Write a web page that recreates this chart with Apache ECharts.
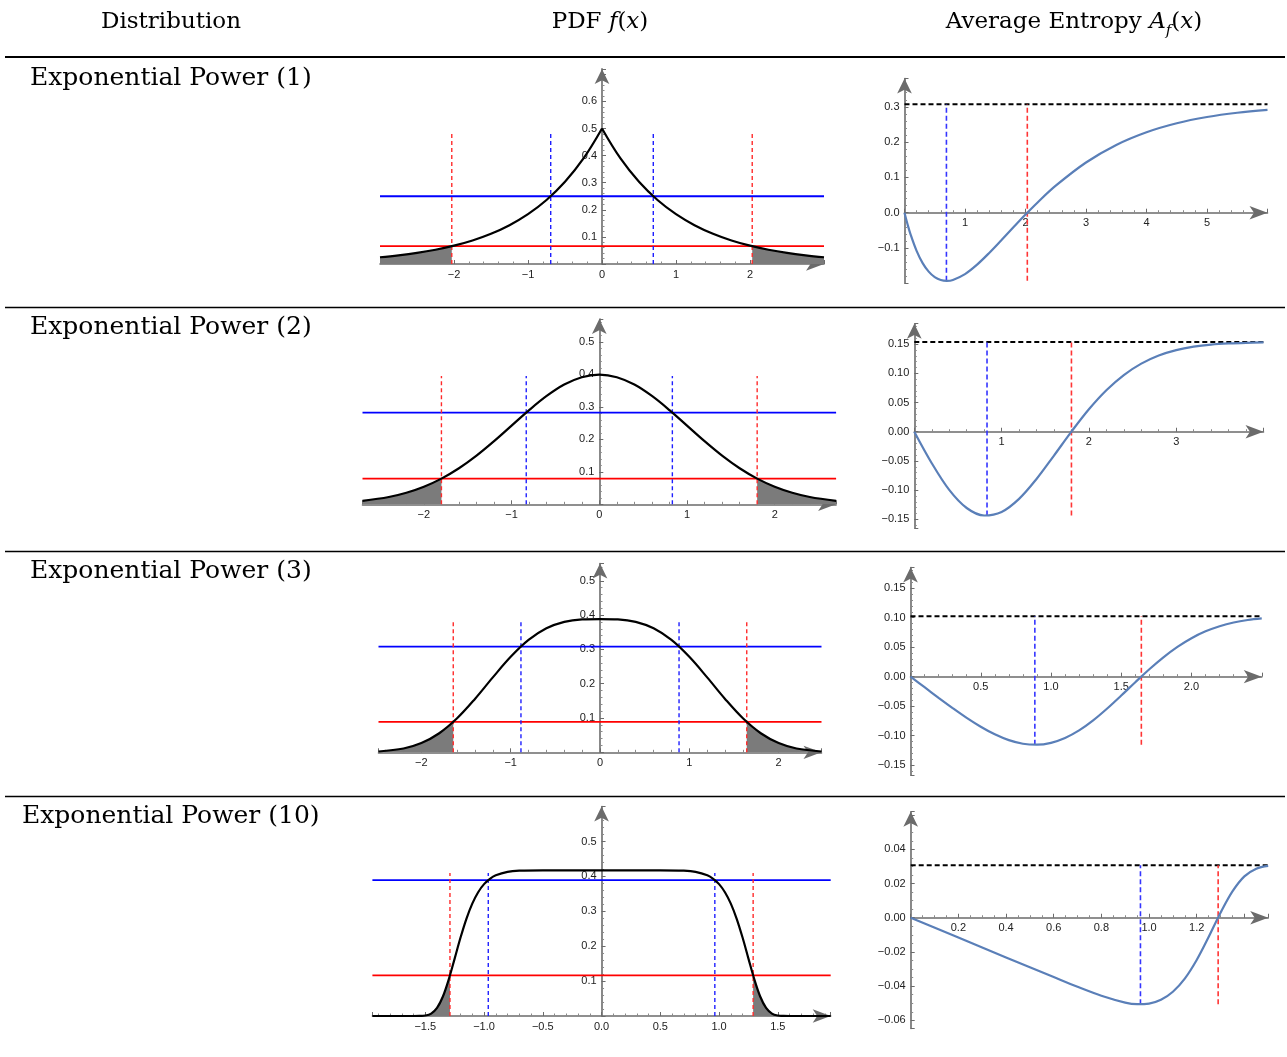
<!DOCTYPE html>
<html>
<head>
<meta charset="utf-8">
<title>Exponential Power: PDF and Average Entropy</title>
<script src="https://cdn.jsdelivr.net/npm/echarts@6/dist/echarts.min.js"></script>
<style>
  html, body { margin: 0; padding: 0; background: #fff; }
  #main { width: 1287px; height: 1057px; }
</style>
</head>
<body>
<div id="main"></div>
<script>
// ---------------- data ----------------
const rowNames = ['Exponential Power (1)', 'Exponential Power (2)', 'Exponential Power (3)', 'Exponential Power (10)'];

// PDF f(x), middle column
const pdf1X = [-3, -2.75, -2.5, -2.25, -2, -1.75, -1.5, -1.25, -1, -0.75, -0.5, -0.25, 0, 0.25, 0.5, 0.75, 1, 1.25, 1.5, 1.75, 2, 2.25, 2.5, 2.75, 3];
const pdf1Y = [0.0249, 0.032, 0.041, 0.0527, 0.0677, 0.0869, 0.1116, 0.1433, 0.1839, 0.2362, 0.3033, 0.3894, 0.5, 0.3894, 0.3033, 0.2362, 0.1839, 0.1433, 0.1116, 0.0869, 0.0677, 0.0527, 0.041, 0.032, 0.0249];

const pdf2X = [-2.7, -2.4, -2.2, -2, -1.8, -1.6, -1.4, -1.2, -1, -0.8, -0.6, -0.4, -0.2, 0, 0.2, 0.4, 0.6, 0.8, 1, 1.2, 1.4, 1.6, 1.8, 2, 2.2, 2.4, 2.7];
const pdf2Y = [0.0104, 0.0224, 0.0355, 0.054, 0.079, 0.1109, 0.1497, 0.1942, 0.242, 0.2897, 0.3332, 0.3683, 0.391, 0.3989, 0.391, 0.3683, 0.3332, 0.2897, 0.242, 0.1942, 0.1497, 0.1109, 0.079, 0.054, 0.0355, 0.0224, 0.0104];

const pdf3X = [-2.48, -2.2, -2, -1.8, -1.6, -1.4, -1.2, -1, -0.8, -0.6, -0.4, -0.2, 0, 0.2, 0.4, 0.6, 0.8, 1, 1.2, 1.4, 1.6, 1.8, 2, 2.2, 2.48];
const pdf3Y = [0.0024, 0.0112, 0.027, 0.0556, 0.0991, 0.1556, 0.2183, 0.2782, 0.3274, 0.3613, 0.3801, 0.3873, 0.3883, 0.3873, 0.3801, 0.3613, 0.3274, 0.2782, 0.2183, 0.1556, 0.0991, 0.0556, 0.027, 0.0112, 0.0024];

const pdf4X = [-1.95, -1.6, -1.55, -1.5, -1.45, -1.4, -1.35, -1.3, -1.25, -1.2, -1.15, -1.1, -1.05, -1, -0.95, -0.9, -0.8, -0.7, -0.5, 0, 0.5, 0.7, 0.8, 0.9, 0.95, 1, 1.05, 1.1, 1.15, 1.2, 1.25, 1.3, 1.35, 1.4, 1.45, 1.5, 1.55, 1.6, 1.95];
const pdf4Y = [0, 0, 0.0001, 0.0013, 0.0069, 0.0232, 0.0559, 0.1052, 0.1645, 0.2248, 0.2786, 0.3221, 0.3547, 0.3778, 0.3932, 0.4032, 0.413, 0.4163, 0.4175, 0.4175, 0.4175, 0.4163, 0.413, 0.4032, 0.3932, 0.3778, 0.3547, 0.3221, 0.2786, 0.2248, 0.1645, 0.1052, 0.0559, 0.0232, 0.0069, 0.0013, 0.0001, 0, 0];

// average entropy A_f(x), right column
const ae1X = [0, 0.05, 0.1, 0.2, 0.3, 0.4, 0.5, 0.6, 0.7, 0.8, 1, 1.2, 1.4, 1.6, 1.8, 2, 2.2, 2.5, 3, 3.5, 4, 4.5, 5, 5.5, 6];
const ae1Y = [0, -0.0326, -0.0613, -0.1081, -0.1427, -0.1669, -0.1825, -0.1908, -0.1931, -0.1905, -0.1739, -0.147, -0.114, -0.0781, -0.0414, -0.0053, 0.0291, 0.0765, 0.1423, 0.192, 0.228, 0.2535, 0.2711, 0.2832, 0.2913];

const ae2X = [0, 0.2, 0.4, 0.6, 0.8, 1, 1.2, 1.4, 1.6, 1.8, 2, 2.2, 2.4, 2.6, 2.8, 3, 3.2, 3.4, 3.6, 3.8, 4];
const ae2Y = [0, -0.0539, -0.0996, -0.1306, -0.1434, -0.1373, -0.1149, -0.0809, -0.0408, 0.0002, 0.0385, 0.0711, 0.0971, 0.1166, 0.1305, 0.1397, 0.1456, 0.1492, 0.1512, 0.1523, 0.1529];

const ae3X = [0, 0.1, 0.2, 0.3, 0.4, 0.5, 0.6, 0.7, 0.8, 0.9, 1, 1.1, 1.2, 1.3, 1.4, 1.5, 1.6, 1.7, 1.8, 1.9, 2, 2.1, 2.2, 2.3, 2.4, 2.5];
const ae3Y = [0, -0.0179, -0.0358, -0.0532, -0.0698, -0.0848, -0.0977, -0.1076, -0.1137, -0.1153, -0.1121, -0.1039, -0.0911, -0.0741, -0.054, -0.032, -0.0094, 0.0126, 0.0328, 0.0505, 0.0652, 0.0768, 0.0855, 0.0918, 0.096, 0.0987];

const ae4X = [0, 0.2, 0.4, 0.6, 0.7, 0.8, 0.9, 0.95, 1, 1.05, 1.1, 1.15, 1.2, 1.25, 1.3, 1.35, 1.4, 1.45, 1.5];
const ae4Y = [0, -0.0116, -0.0232, -0.0347, -0.0404, -0.0456, -0.0496, -0.0505, -0.0502, -0.048, -0.0433, -0.0356, -0.0247, -0.0113, 0.0029, 0.0154, 0.0242, 0.0287, 0.0303];

// cut points and levels
const redCuts = [2.03, 1.8, 1.643, 1.29];
const redLevels = [0.0656, 0.079, 0.0885, 0.1165];
const blueCuts = [0.693, 0.833, 0.885, 0.964];
const blueLevels = [0.25, 0.282, 0.308, 0.3895];
const pdfDashTops = [0.49, 0.395, 0.384, 0.41];
const aeLimits = [0.307, 0.1535, 0.1023, 0.0307];
const aeMins = [-0.193, -0.1436, -0.1153, -0.0506];

// tick labels
const pdfXTicks = [[-2, -1, 0, 1, 2], [-2, -1, 0, 1, 2], [-2, -1, 0, 1, 2], [-1.5, -1, -0.5, 0, 0.5, 1, 1.5]];
const pdfYTicks = [[0.1, 0.2, 0.3, 0.4, 0.5, 0.6], [0.1, 0.2, 0.3, 0.4, 0.5], [0.1, 0.2, 0.3, 0.4, 0.5], [0.1, 0.2, 0.3, 0.4, 0.5]];
const aeXTicks = [[1, 2, 3, 4, 5], [1, 2, 3], [0.5, 1, 1.5, 2], [0.2, 0.4, 0.6, 0.8, 1, 1.2]];
const aeYTicks = [[-0.1, 0, 0.1, 0.2, 0.3], [-0.15, -0.1, -0.05, 0, 0.05, 0.1, 0.15], [-0.15, -0.1, -0.05, 0, 0.05, 0.1, 0.15], [-0.06, -0.04, -0.02, 0, 0.02, 0.04]];

// ---------------- layout ----------------
const pdfX = [pdf1X, pdf2X, pdf3X, pdf4X];
const pdfY = [pdf1Y, pdf2Y, pdf3Y, pdf4Y];
const aeX = [ae1X, ae2X, ae3X, ae4X];
const aeY = [ae1Y, ae2Y, ae3Y, ae4Y];

const pdfBox = [
  {left: 380, top: 68.9, width: 444, height: 195.1, xMin: -3, xMax: 3, yMax: 0.72, xStep: 1, yStep: 0.1, xDec: 0, yDec: 1},
  {left: 362.5, top: 319, width: 473.6, height: 185.3, xMin: -2.7, xMax: 2.7, yMax: 0.57, xStep: 1, yStep: 0.1, xDec: 0, yDec: 1},
  {left: 378.5, top: 563.6, width: 443, height: 188.7, xMin: -2.48, xMax: 2.48, yMax: 0.55, xStep: 1, yStep: 0.1, xDec: 0, yDec: 1},
  {left: 372.4, top: 806.6, width: 458.3, height: 209.4, xMin: -1.95, xMax: 1.95, yMax: 0.6, xStep: 0.5, yStep: 0.1, xDec: 1, yDec: 1}
];
const aeBox = [
  {left: 904.5, top: 78.6, width: 363, height: 204.7, xMax: 6, yMin: -0.2, yMax: 0.38, xStep: 1, yStep: 0.1, xDec: 0, yDec: 1, xMinor: 5, yMinor: 5},
  {left: 914.3, top: 323.7, width: 349.2, height: 204.4, xMax: 4, yMin: -0.165, yMax: 0.185, xStep: 1, yStep: 0.05, xDec: 0, yDec: 2, xMinor: 5, yMinor: 5},
  {left: 910.5, top: 567.5, width: 351.25, height: 207.7, xMax: 2.5, yMin: -0.167, yMax: 0.185, xStep: 0.5, yStep: 0.05, xDec: 1, yDec: 2, xMinor: 5, yMinor: 5},
  {left: 910.7, top: 811.7, width: 357.5, height: 216.7, xMax: 1.5, yMin: -0.0647, yMax: 0.062, xStep: 0.2, yStep: 0.02, xDec: 1, yDec: 2, xMinor: 4, yMinor: 4}
];
const rowLabelPos = [[30, 78], [30, 327], [30, 571], [22, 816]];
const ruleYs = [57, 307.5, 551.5, 796.5];

const AXIS = '#6b6b6b';
const LABEL_FONT = 'Liberation Sans, Arial, sans-serif';
const SERIF = 'DejaVu Serif, Liberation Serif, serif';

function pts(xs, ys) { return xs.map((x, i) => [x, ys[i]]); }

function fmt(ticks, dec) {
  return function (v) {
    if (!ticks.some(t => Math.abs(t - v) < 1e-6)) return '';
    if (Math.abs(v) < 1e-9) v = 0;
    return v.toFixed(dec).replace('-', '\u2212');
  };
}

// value axis; `shift` moves the whole axis (line, ticks, labels) inwards to the value 0 of the other axis
function axis(grid, dim, min, max, step, ticks, dec, minor, shift) {
  return {
    type: 'value', gridIndex: grid, min: min, max: max,
    minInterval: step, maxInterval: step, splitNumber: 8,
    offset: -shift,
    splitLine: {show: false},
    axisLine: {
      show: true, onZero: false,
      symbol: ['none', 'arrow'],
      symbolSize: dim === 'x' ? [10, 18] : [11, 15],
      lineStyle: {color: AXIS, width: 1.6}
    },
    axisTick: {show: true, inside: true, length: 4, lineStyle: {color: AXIS, width: 1}},
    minorTick: {show: true, splitNumber: minor, length: 2.5, lineStyle: {color: '#8a8a8a', width: 1}},
    axisLabel: {
      formatter: fmt(ticks, dec), fontSize: 11, color: '#222', fontFamily: LABEL_FONT,
      margin: 5, showMinLabel: true, showMaxLabel: true, hideOverlap: false
    }
  };
}

function seg(gi, data, color, width, dash, z) {
  return {
    type: 'line', xAxisIndex: gi, yAxisIndex: gi, data: data, symbol: 'none', silent: true,
    lineStyle: {color: color, width: width, type: dash || 'solid'}, z: z || 2
  };
}

const grids = [], xAxes = [], yAxes = [], series = [];

for (let r = 0; r < 4; r++) {
  // ---- PDF panel ----
  const g = 2 * r, b = pdfBox[r];
  grids.push({left: b.left, top: b.top, width: b.width, height: b.height});
  xAxes.push(axis(g, 'x', b.xMin, b.xMax, b.xStep, pdfXTicks[r], b.xDec, 5, 0));
  const yShift = b.width * (0 - b.xMin) / (b.xMax - b.xMin);
  yAxes.push(axis(g, 'y', 0, b.yMax, b.yStep, pdfYTicks[r], b.yDec, 5, yShift));

  const xs = pdfX[r], ys = pdfY[r];
  const rc = redCuts[r], rl = redLevels[r];
  const leftTail = [], rightTail = [[rc, rl]];
  xs.forEach((x, i) => {
    if (x < -rc) leftTail.push([x, ys[i]]);
    if (x > rc) rightTail.push([x, ys[i]]);
  });
  leftTail.push([-rc, rl]);
  [leftTail, rightTail].forEach(t => series.push({
    type: 'line', xAxisIndex: g, yAxisIndex: g, data: t, symbol: 'none', smooth: 0.4, silent: true,
    lineStyle: {width: 0}, areaStyle: {color: '#7b7b7b', opacity: 1}, z: 1
  }));

  series.push(seg(g, [[b.xMin, blueLevels[r]], [b.xMax, blueLevels[r]]], '#0000ff', 1.8));
  series.push(seg(g, [[b.xMin, rl], [b.xMax, rl]], '#ff0000', 1.8));
  [-blueCuts[r], blueCuts[r]].forEach(x => series.push(seg(g, [[x, 0], [x, pdfDashTops[r]]], '#1f1fff', 1.4, [4, 3])));
  [-rc, rc].forEach(x => series.push(seg(g, [[x, 0], [x, pdfDashTops[r]]], '#ff2a2a', 1.4, [4, 3])));

  const all = pts(xs, ys);
  if (r === 0) {
    // cusp at the peak: draw both halves separately
    series.push(Object.assign(seg(g, all.filter(p => p[0] <= 0), '#000', 2.2, null, 3), {smooth: 0.4}));
    series.push(Object.assign(seg(g, all.filter(p => p[0] >= 0), '#000', 2.2, null, 3), {smooth: 0.4}));
  } else {
    series.push(Object.assign(seg(g, all, '#000', 2.2, null, 3), {smooth: 0.35}));
  }

  // ---- average entropy panel ----
  const h = 2 * r + 1, a = aeBox[r];
  grids.push({left: a.left, top: a.top, width: a.width, height: a.height});
  const xShift = a.height * (0 - a.yMin) / (a.yMax - a.yMin);
  xAxes.push(axis(h, 'x', 0, a.xMax, a.xStep, aeXTicks[r], a.xDec, a.xMinor, xShift));
  yAxes.push(axis(h, 'y', a.yMin, a.yMax, a.yStep, aeYTicks[r], a.yDec, a.yMinor, 0));

  series.push(seg(h, [[0, aeLimits[r]], [a.xMax, aeLimits[r]]], '#000', 2, [5, 3]));
  series.push(seg(h, [[blueCuts[r], aeMins[r]], [blueCuts[r], aeLimits[r]]], '#3535ff', 1.6, [5, 3]));
  series.push(seg(h, [[rc, aeMins[r]], [rc, aeLimits[r]]], '#ff3535', 1.6, [5, 3]));
  series.push(Object.assign(seg(h, pts(aeX[r], aeY[r]), '#5a7fb8', 2.2, null, 3), {smooth: 0.35}));
}

// ---------------- table text and rules ----------------
const graphics = [];
ruleYs.forEach((y, i) => graphics.push({
  type: 'line', shape: {x1: 5, y1: y, x2: 1285, y2: y},
  style: {stroke: '#000', lineWidth: i === 0 ? 2.2 : 1.6}, silent: true
}));

const headRich = {
  n: {fontFamily: SERIF, fontSize: 23, color: '#000', lineHeight: 34},
  m: {fontFamily: SERIF, fontSize: 23, color: '#ff0000', fontStyle: 'italic', lineHeight: 34},
  p: {fontFamily: SERIF, fontSize: 23, color: '#ff0000', lineHeight: 34},
  s: {fontFamily: SERIF, fontSize: 15, color: '#ff0000', fontStyle: 'italic', lineHeight: 15, verticalAlign: 'bottom'}
};
[
  [171, '{n|Distribution}'],
  [600, '{n|PDF }{m|f}{p|(}{m|x}{p|)}'],
  [1074, '{n|Average Entropy }{m|A}{s|f}{p|(}{m|x}{p|)}']
].forEach(([x, t]) => graphics.push({
  type: 'text', x: x, y: 22, silent: true,
  style: {text: t, rich: headRich, align: 'center', verticalAlign: 'middle', textAlign: 'center', textVerticalAlign: 'middle'}
}));

rowNames.forEach((name, r) => graphics.push({
  type: 'text', x: rowLabelPos[r][0], y: rowLabelPos[r][1], silent: true,
  style: {text: name, font: '25px ' + SERIF, fill: '#000', align: 'left', verticalAlign: 'middle', textAlign: 'left', textVerticalAlign: 'middle'}
}));

const chart = echarts.init(document.getElementById('main'), null, {renderer: 'canvas'});
chart.setOption({
  animation: false,
  backgroundColor: '#fff',
  grid: grids,
  xAxis: xAxes,
  yAxis: yAxes,
  series: series,
  graphic: {elements: graphics}
});
</script>
</body>
</html>
